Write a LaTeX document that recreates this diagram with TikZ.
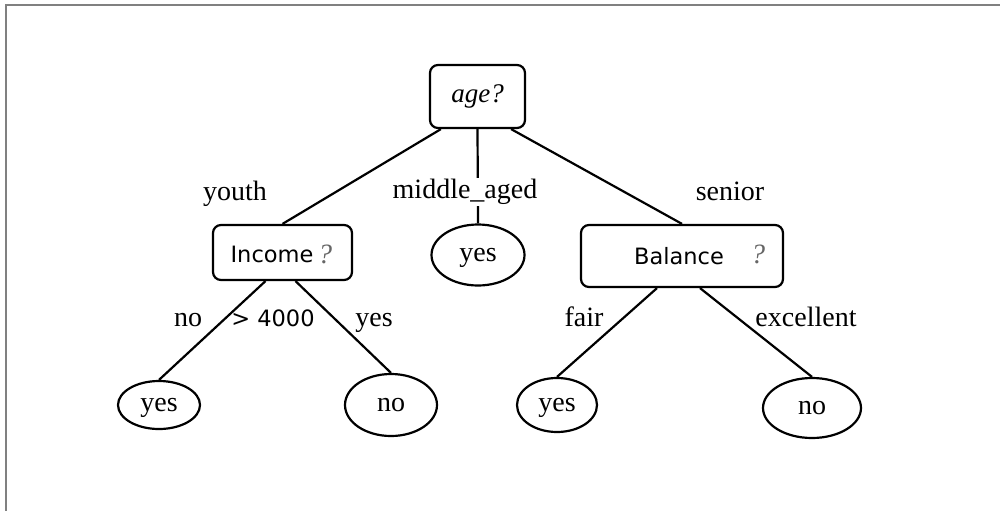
\documentclass[tikz,border=0pt]{standalone}
\usepackage{fontspec}
\setmainfont{Liberation Serif}
\newfontfamily\sansf{DejaVu Sans}
\usetikzlibrary{shapes.geometric}
\begin{document}
\begin{tikzpicture}[x=1pt,y=-1pt,
  every node/.style={font=\fontsize{28}{32}\selectfont, inner sep=0pt},
  qbox/.style={draw, line width=2.2pt, rounded corners=8pt},
  leaf/.style={draw, ellipse, line width=2.2pt, text height=13pt, text depth=0pt},
  edge/.style={line width=2.2pt},
  lbl/.style={fill=white, inner sep=1pt},
  xh/.style={text height=13pt, text depth=0pt},
  sanslbl/.style={font=\sansf\fontsize{22.5}{26}\selectfont},
  qmark/.style={font=\itshape\fontsize{28}{32}\selectfont, text=black!60}
]
\useasboundingbox (0,0) rectangle (1000,511);
\draw[gray, line width=1.5pt] (1000,5) -- (6,5) -- (6,511);

% question boxes
\node[qbox, minimum width=95pt, minimum height=63pt, font=\itshape\fontsize{27}{32}\selectfont] (age) at (477.5,96.5) {age?};
\node[qbox, minimum width=139pt, minimum height=55pt] (inc) at (282.5,252.5) {};
\node[sanslbl] (inct) at (272,254) {Income};
\node[qmark] (incq) at (325,254) {?};
\node[qbox, minimum width=202pt, minimum height=62pt] (bal) at (682,256) {};
\node[sanslbl] (balt) at (679,256) {Balance};
\node[qmark] (balq) at (758,254) {?};

% leaves
\node[leaf, minimum width=93pt, minimum height=61pt] (ym) at (478,255) {yes};
\node[leaf, minimum width=82pt, minimum height=48pt] (yl) at (159,405) {yes};
\node[leaf, minimum width=92pt, minimum height=62pt] (nl) at (391,405) {no};
\node[leaf, minimum width=80pt, minimum height=54pt] (yr) at (557,405) {yes};
\node[leaf, minimum width=98pt, minimum height=60pt] (nr) at (812,408) {no};

% edges
\draw[edge] ([xshift=12pt]age.south west) -- (inc.north);
\draw[edge] (age.south) -- (ym.north);
\draw[edge] ([xshift=-15pt]age.south east) -- (bal.north);
\draw[edge] ([xshift=-17pt]inc.south) -- (yl.north);
\draw[edge] ([xshift=13pt]inc.south) -- (nl.north);
\draw[edge] ([xshift=-25pt]bal.south) -- (yr.north);
\draw[edge] ([xshift=18pt]bal.south) -- (nr.north);

% edge labels
\node[xh] (l1) at (235,194) {youth};
\node[lbl] (l2) at (465,192) {middle\_aged};
\node[xh] (l3) at (730,194) {senior};
\node[xh] (l4) at (188,320) {no};
\node[sanslbl] (l5) at (273,318) {> 4000};
\node[xh] (l6) at (374,320) {yes};
\node[xh] (l7) at (584,320) {fair};
\node[xh] (l8) at (806,320) {excellent};
\end{tikzpicture}
\end{document}
